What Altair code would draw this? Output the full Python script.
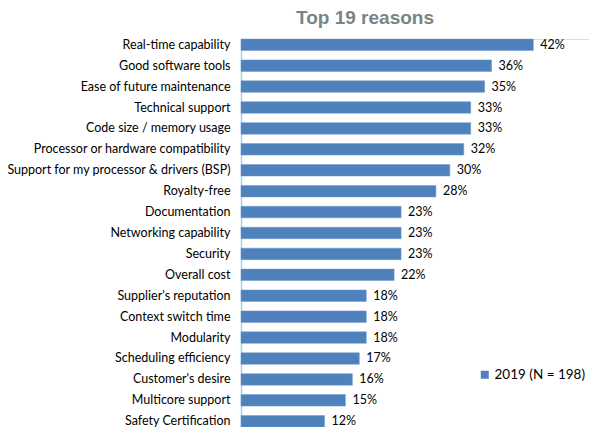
import altair as alt
import pandas as pd

reasons = [
    "Real-time capability",
    "Good software tools",
    "Ease of future maintenance",
    "Technical support",
    "Code size / memory usage",
    "Processor or hardware compatibility",
    "Support for my processor & drivers (BSP)",
    "Royalty-free",
    "Documentation",
    "Networking capability",
    "Security",
    "Overall cost",
    "Supplier's reputation",
    "Context switch time",
    "Modularity",
    "Scheduling efficiency",
    "Customer's desire",
    "Multicore support",
    "Safety Certification",
]
values = [42, 36, 35, 33, 33, 32, 30, 28, 23, 23, 23, 22, 18, 18, 18, 17, 16, 15, 12]
series = "2019 (N = 198)"

df = pd.DataFrame({"reason": reasons, "value": values, "series": [series] * len(reasons)})
df["label"] = df["value"].astype(str) + "%"

FONT = "Lato"
BLUE = "#4f81bd"

y_enc = alt.Y(
    "reason:N",
    sort=reasons,
    title=None,
    scale=alt.Scale(paddingInner=0.45, paddingOuter=0.0),
    axis=alt.Axis(
        ticks=False,
        labelPadding=11,
        labelFont=FONT,
        labelFontSize=12.5,
        labelColor="#000000",
        domainColor="#a8d3ea",
        domainWidth=1.5,
        labelLimit=300,
    ),
)
x_enc = alt.X(
    "value:Q",
    title=None,
    scale=alt.Scale(domain=[0, 50], nice=False),
    axis=None,
)

bars = alt.Chart(df).mark_bar(stroke="#6d97cb", strokeWidth=0.5).encode(
    y=y_enc,
    x=x_enc,
    color=alt.Color(
        "series:N",
        scale=alt.Scale(range=[BLUE]),
        legend=alt.Legend(
            title=None,
            orient="none",
            legendX=237,
            legendY=329,
            symbolType="square",
            symbolSize=64,
            symbolStrokeWidth=0,
            labelFont=FONT,
            labelFontSize=13.5,
            labelColor="#000000",
            labelOffset=3,
            labelLimit=200,
        ),
    ),
)

texts = alt.Chart(df).mark_text(
    align="left", baseline="middle", dx=7, font=FONT, fontSize=12.5, color="#000000"
).encode(y=alt.Y("reason:N", sort=reasons), x="value:Q", text="label:N")

chart = (
    alt.layer(bars, texts)
    .properties(
        width=348,
        height=388,
        title=alt.TitleParams(
            "Top 19 reasons",
            font="Liberation Sans",
            fontSize=19,
            fontWeight="bold",
            color="#778584",
            anchor="middle",
            dx=-50,
            offset=10,
        ),
        autosize=alt.AutoSizeParams(type="none"),
        padding={"left": 233, "top": 31, "right": 0, "bottom": 0},
    )
    .configure_view(stroke=None)
    .configure(background="white")
)

chart.save("out.html", embed_options={"renderer": "svg", "actions": False})
